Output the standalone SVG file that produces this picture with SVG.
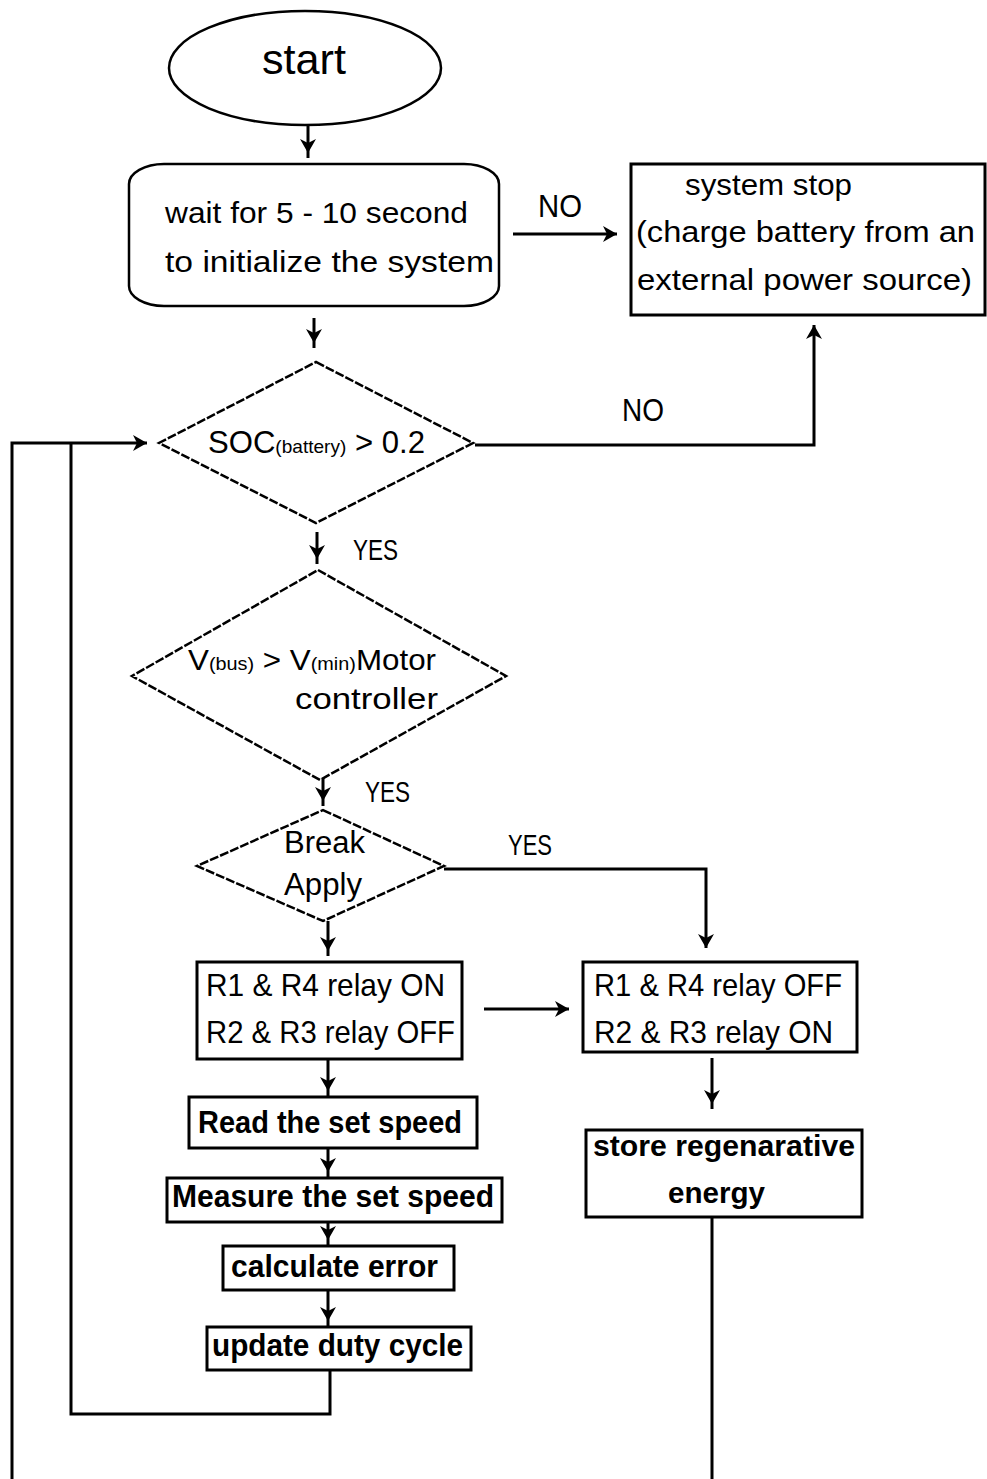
<svg xmlns="http://www.w3.org/2000/svg" width="987" height="1479" viewBox="0 0 987 1479">
<style>
.t{font-family:"Liberation Sans",Arial,sans-serif;fill:#000}
.b{font-weight:bold}
.shape{fill:#fff;stroke:#000;stroke-width:2.5}
.dia{fill:#fff;stroke:#000;stroke-width:2.5;stroke-dasharray:9 2}
.box{fill:#fff;stroke:#000;stroke-width:3}
.c{fill:none;stroke:#000;stroke-width:3}
</style>
<defs>
<marker id="ah" markerUnits="userSpaceOnUse" markerWidth="22" markerHeight="22" refX="19" refY="8" orient="auto">
<path d="M0,0 L14,8 L0,16 L4,8 Z" fill="#000"/>
</marker>
<marker id="ah0" markerUnits="userSpaceOnUse" markerWidth="22" markerHeight="22" refX="14" refY="8" orient="auto">
<path d="M0,0 L14,8 L0,16 L4,8 Z" fill="#000"/>
</marker>
</defs>
<rect width="987" height="1479" fill="#fff"/>

<g id="connectors">
<line class="c" x1="308" y1="126" x2="308" y2="158" marker-end="url(#ah)"/>
<line class="c" x1="314" y1="318" x2="314" y2="348" marker-end="url(#ah)"/>
<line class="c" x1="513" y1="234" x2="617" y2="234" marker-end="url(#ah0)"/>
<polyline class="c" points="475,445 814,445 814,325" marker-end="url(#ah0)"/>
<polyline class="c" points="12,1479 12,443 147,443" marker-end="url(#ah0)"/>
<polyline class="c" points="330,1371 330,1414 71,1414 71,443"/>
<line class="c" x1="317" y1="532" x2="317" y2="564" marker-end="url(#ah)"/>
<line class="c" x1="323" y1="775" x2="323" y2="806" marker-end="url(#ah)"/>
<line class="c" x1="328" y1="921" x2="328" y2="956" marker-end="url(#ah)"/>
<polyline class="c" points="444,869 706,869 706,948" marker-end="url(#ah0)"/>
<line class="c" x1="484" y1="1009" x2="569" y2="1009" marker-end="url(#ah0)"/>
<line class="c" x1="712" y1="1058" x2="712" y2="1109" marker-end="url(#ah)"/>
<line class="c" x1="328" y1="1060" x2="328" y2="1096" marker-end="url(#ah)"/>
<line class="c" x1="328" y1="1142" x2="328" y2="1177" marker-end="url(#ah)"/>
<line class="c" x1="328" y1="1212" x2="328" y2="1245" marker-end="url(#ah)"/>
<line class="c" x1="328" y1="1291" x2="328" y2="1326" marker-end="url(#ah)"/>
<line class="c" x1="712" y1="1217" x2="712" y2="1479"/>
<text class="t" x="538" y="217" font-size="31" textLength="44" lengthAdjust="spacingAndGlyphs">NO</text>
<text class="t" x="622" y="421" font-size="31" textLength="42" lengthAdjust="spacingAndGlyphs">NO</text>
<text class="t" x="353" y="560" font-size="30" textLength="45" lengthAdjust="spacingAndGlyphs">YES</text>
<text class="t" x="365" y="802" font-size="30" textLength="45" lengthAdjust="spacingAndGlyphs">YES</text>
<text class="t" x="508" y="855" font-size="30" textLength="44" lengthAdjust="spacingAndGlyphs">YES</text>
</g>

<g id="start">
<ellipse class="shape" cx="305" cy="68" rx="136" ry="57"/>
<text class="t" x="262" y="74" font-size="42" textLength="84" lengthAdjust="spacingAndGlyphs">start</text>
</g>

<g id="wait">
<rect class="shape" x="129" y="164" width="370" height="142" rx="35" ry="20"/>
<text class="t" x="165" y="223" font-size="30" textLength="303" lengthAdjust="spacingAndGlyphs">wait for 5 - 10 second</text>
<text class="t" x="165" y="272" font-size="30" textLength="329" lengthAdjust="spacingAndGlyphs">to initialize the system</text>
</g>

<g id="stop">
<rect class="box" x="631" y="164" width="354" height="151"/>
<text class="t" x="685" y="195" font-size="30" textLength="167" lengthAdjust="spacingAndGlyphs">system stop</text>
<text class="t" x="636" y="242" font-size="30" textLength="339" lengthAdjust="spacingAndGlyphs">(charge battery from an</text>
<text class="t" x="637" y="290" font-size="30" textLength="335" lengthAdjust="spacingAndGlyphs">external power source)</text>
</g>

<g id="soc">
<polygon class="dia" points="316,362 473,443 316,523 159,443"/>
<text class="t" x="208" y="453" font-size="31" textLength="217" lengthAdjust="spacingAndGlyphs">SOC<tspan font-size="19">(battery)</tspan> &gt; 0.2</text>
</g>

<g id="vbus">
<polygon class="dia" points="318,570 506,676 320,780 132,676"/>
<text class="t" x="188" y="670" font-size="30" textLength="248" lengthAdjust="spacingAndGlyphs">V<tspan font-size="19">(bus)</tspan> &gt; V<tspan font-size="19">(min)</tspan>Motor</text>
<text class="t" x="295" y="709" font-size="30" textLength="143" lengthAdjust="spacingAndGlyphs">controller</text>
</g>

<g id="brake">
<polygon class="dia" points="323,810 444,866 323,921 197,866"/>
<text class="t" x="284" y="853" font-size="31" textLength="81" lengthAdjust="spacingAndGlyphs">Break</text>
<text class="t" x="284" y="895" font-size="31" textLength="78" lengthAdjust="spacingAndGlyphs">Apply</text>
</g>

<g id="relayOn">
<rect class="box" x="197" y="962" width="265" height="97"/>
<text class="t" x="206" y="996" font-size="32" textLength="239" lengthAdjust="spacingAndGlyphs">R1 &amp; R4 relay ON</text>
<text class="t" x="206" y="1043" font-size="32" textLength="249" lengthAdjust="spacingAndGlyphs">R2 &amp; R3 relay OFF</text>
</g>

<g id="relayOff">
<rect class="box" x="583" y="962" width="274" height="90"/>
<text class="t" x="594" y="996" font-size="32" textLength="248" lengthAdjust="spacingAndGlyphs">R1 &amp; R4 relay OFF</text>
<text class="t" x="594" y="1043" font-size="32" textLength="239" lengthAdjust="spacingAndGlyphs">R2 &amp; R3 relay ON</text>
</g>

<g id="store">
<rect class="box" x="586" y="1130" width="276" height="87"/>
<text class="t b" x="593" y="1156" font-size="30" textLength="262" lengthAdjust="spacingAndGlyphs">store regenarative</text>
<text class="t b" x="668" y="1203" font-size="30" textLength="97" lengthAdjust="spacingAndGlyphs">energy</text>
</g>

<g id="read">
<rect class="box" x="189" y="1097" width="288" height="51"/>
<text class="t b" x="198" y="1133" font-size="31" textLength="264" lengthAdjust="spacingAndGlyphs">Read the set speed</text>
</g>

<g id="measure">
<rect class="box" x="167" y="1178" width="335" height="44" stroke-width="4"/>
<text class="t b" x="172" y="1207" font-size="31" textLength="322" lengthAdjust="spacingAndGlyphs">Measure the set speed</text>
</g>

<g id="calc">
<rect class="box" x="223" y="1246" width="231" height="44"/>
<text class="t b" x="231" y="1277" font-size="31" textLength="207" lengthAdjust="spacingAndGlyphs">calculate error</text>
</g>

<g id="update">
<rect class="box" x="207" y="1327" width="264" height="43"/>
<text class="t b" x="212" y="1356" font-size="31" textLength="251" lengthAdjust="spacingAndGlyphs">update duty cycle</text>
</g>
</svg>
